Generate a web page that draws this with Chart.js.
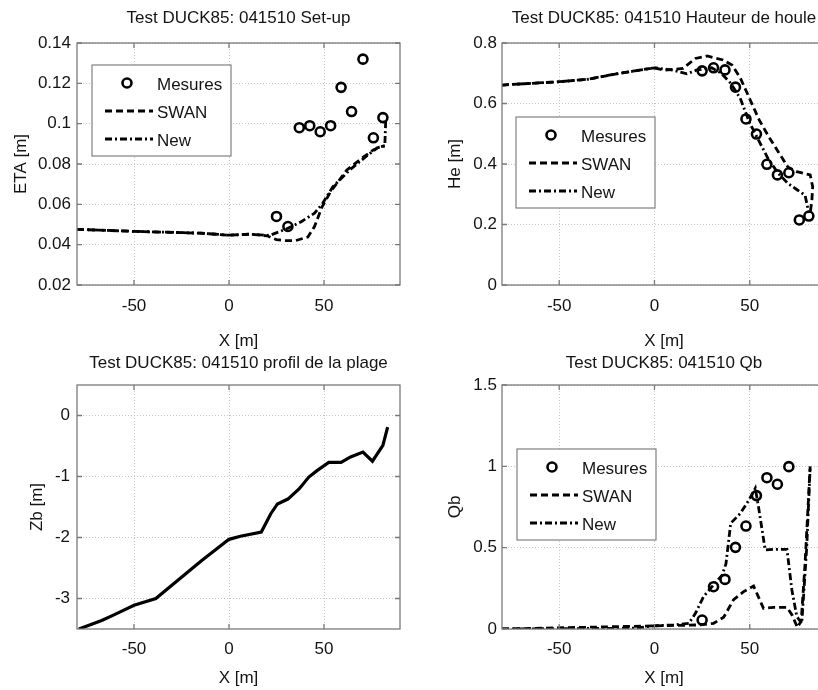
<!DOCTYPE html>
<html>
<head>
<meta charset="utf-8">
<script src="https://cdn.jsdelivr.net/npm/chart.js@4.4.1/dist/chart.umd.min.js"></script>
<style>
  html, body { margin: 0; padding: 0; background: #fff; }
  body { width: 818px; height: 690px; overflow: hidden; position: relative; }
  canvas { position: absolute; }
</style>
</head>
<body>
<canvas id="cEta" width="410" height="355" style="left:0;top:0"></canvas>
<canvas id="cHe" width="430" height="355" style="left:410px;top:0"></canvas>
<canvas id="cZb" width="410" height="350" style="left:0;top:340px"></canvas>
<canvas id="cQb" width="430" height="350" style="left:410px;top:340px"></canvas>
<script>
// ---- data ----
const xTicks = [-50, 0, 50];
const etaTicks = [0.02, 0.04, 0.06, 0.08, 0.1, 0.12, 0.14];
const heTicks = [0, 0.2, 0.4, 0.6, 0.8];
const zbTicks = [-3, -2, -1, 0];
const qbTicks = [0, 0.5, 1, 1.5];

// gauge positions (Mesures)
const xMes = [25, 31, 37, 42.5, 48, 53.5, 59, 64.5, 70.5, 76, 81];
const etaMes = [0.054, 0.049, 0.098, 0.099, 0.096, 0.099, 0.118, 0.106, 0.132, 0.093, 0.103];
const heMes = [0.708, 0.718, 0.711, 0.654, 0.549, 0.499, 0.399, 0.364, 0.371, 0.215, 0.228];
const qbMes = [0.055, 0.26, 0.305, 0.502, 0.633, 0.82, 0.93, 0.89, 0.998];

// set-up
const etaSwanX = [-80, -50, -15, 0, 11, 20, 25, 30, 35, 41.5, 45, 49, 53.5, 62, 71, 76, 80, 82];
const etaSwanY = [0.0476, 0.0466, 0.0457, 0.0447, 0.0452, 0.0444, 0.0425, 0.042, 0.042, 0.0438, 0.049, 0.0588, 0.0663, 0.077, 0.0836, 0.087, 0.0886, 0.089];
const etaNewX = [-80, -50, -15, 0, 11, 20, 22, 31, 38, 45, 49.3, 54.7, 63.5, 72, 78, 82, 82.5];
const etaNewY = [0.0476, 0.0466, 0.0457, 0.0447, 0.0452, 0.0446, 0.0448, 0.0481, 0.0514, 0.0556, 0.0605, 0.0688, 0.077, 0.0836, 0.088, 0.089, 0.102];

// hauteur de houle
const heSwanX = [-80, -50, -35, -20, 0, 5, 15, 21.5, 27.6, 36, 40.7, 45, 50, 55, 60, 65, 70, 74.7, 81.7, 83, 82.6, 81.7];
const heSwanY = [0.661, 0.672, 0.68, 0.698, 0.718, 0.71, 0.716, 0.749, 0.757, 0.744, 0.727, 0.685, 0.615, 0.545, 0.49, 0.44, 0.39, 0.375, 0.364, 0.325, 0.281, 0.237];
const heNewX = [-80, -50, -35, -20, 0, 10, 17, 22, 30, 35, 40, 45, 50, 55, 60, 65, 70, 75, 79, 81];
const heNewY = [0.661, 0.672, 0.68, 0.698, 0.718, 0.71, 0.698, 0.71, 0.718, 0.7, 0.667, 0.617, 0.535, 0.474, 0.413, 0.369, 0.336, 0.314, 0.297, 0.238];

// profil de la plage
const zbX = [-79, -67, -60, -50, -38.5, -25, -14.5, 0, 6, 17, 22, 25.5, 31, 37, 42, 46.5, 52.5, 59, 64, 70.5, 75.5, 81, 83.5];
const zbY = [-3.5, -3.36, -3.26, -3.11, -3.0, -2.65, -2.38, -2.03, -1.98, -1.91, -1.61, -1.45, -1.37, -1.2, -1.01, -0.9, -0.77, -0.77, -0.68, -0.6, -0.75, -0.49, -0.19];

// Qb
const qbSwanX = [-80, 24, 31, 36.3, 41.5, 46.8, 52, 57.2, 62.5, 69.5, 72, 75, 77, 79, 81.7];
const qbSwanY = [0, 0.025, 0.035, 0.072, 0.18, 0.23, 0.264, 0.127, 0.133, 0.133, 0.09, 0.01, 0.05, 0.4, 1.0];
const qbNewX = [-80, -10, 0, 10, 18, 21.5, 25.8, 30.2, 35.4, 37.5, 40, 45, 49.4, 52.9, 54.6, 58.1, 62.5, 69.5, 72.1, 74.7, 77.3, 79.9, 81.7];
const qbNewY = [0, 0.005, 0.02, 0.025, 0.035, 0.096, 0.2, 0.26, 0.33, 0.4, 0.65, 0.71, 0.79, 0.865, 0.75, 0.486, 0.49, 0.49, 0.24, 0.076, 0.035, 0.506, 1.0];

// ---- helpers ----
const FONT = "'Liberation Sans', Arial, Helvetica, sans-serif";
const TXT = '#141414';
Chart.defaults.font.family = FONT;
Chart.defaults.font.size = 17;
Chart.defaults.color = TXT;

function pts(xs, ys) {
    return ys.map((y, i) => ({ x: xs[i], y: y }));
}

function mesures(ys) {
    return {
        label: 'Mesures', data: pts(xMes, ys), showLine: false,
        pointStyle: 'circle', pointRadius: 4.5, pointBorderWidth: 2.6,
        pointBorderColor: '#000', pointBackgroundColor: 'rgba(0,0,0,0)'
    };
}

function curve(label, xs, ys, dash, width) {
    return {
        label: label, data: pts(xs, ys), borderColor: '#000',
        borderWidth: width || 2.8, borderDash: dash || [], pointRadius: 0,
        fill: false, tension: 0
    };
}

const SWAN_DASH = [7, 4];
const NEW_DASH = [7, 3, 2, 3];

// MATLAB style box + inward tick marks
const framePlugin = {
    id: 'frame',
    afterDatasetsDraw(chart) {
        const { ctx, chartArea: a, scales } = chart;
        ctx.save();
        ctx.strokeStyle = '#7a7a7a';
        ctx.lineWidth = 1.3;
        ctx.setLineDash([]);
        ctx.strokeRect(a.left, a.top, a.right - a.left, a.bottom - a.top);
        const tl = 5;
        ctx.beginPath();
        scales.x.ticks.forEach(t => {
            const px = scales.x.getPixelForValue(t.value);
            ctx.moveTo(px, a.bottom); ctx.lineTo(px, a.bottom - tl);
            ctx.moveTo(px, a.top); ctx.lineTo(px, a.top + tl);
        });
        scales.y.ticks.forEach(t => {
            const py = scales.y.getPixelForValue(t.value);
            ctx.moveTo(a.left, py); ctx.lineTo(a.left + tl, py);
            ctx.moveTo(a.right, py); ctx.lineTo(a.right - tl, py);
        });
        ctx.stroke();
        ctx.restore();
    }
};

// boxed legend inside the axes
const boxLegend = {
    id: 'boxLegend',
    afterDraw(chart, args, opts) {
        if (!opts || !opts.show) return;
        const { ctx, chartArea: a } = chart;
        const x0 = a.left + opts.dx, y0 = a.top + opts.dy;
        const w = 139, h = 91;
        ctx.save();
        ctx.fillStyle = '#fff';
        ctx.fillRect(x0, y0, w, h);
        ctx.strokeStyle = '#808080';
        ctx.lineWidth = 1.2;
        ctx.strokeRect(x0, y0, w, h);
        ctx.font = '17px ' + FONT;
        ctx.textBaseline = 'middle';
        ctx.fillStyle = TXT;
        chart.data.datasets.forEach((ds, i) => {
            const cy = y0 + 20 + i * 28;
            ctx.strokeStyle = '#000';
            if (ds.showLine === false) {
                ctx.setLineDash([]);
                ctx.lineWidth = 2.6;
                ctx.beginPath();
                ctx.arc(x0 + 35, cy - 2, 4.5, 0, Math.PI * 2);
                ctx.stroke();
            } else {
                ctx.setLineDash(ds.borderDash || []);
                ctx.lineWidth = 2.8;
                ctx.beginPath();
                ctx.moveTo(x0 + 13, cy - 2);
                ctx.lineTo(x0 + 61, cy - 2);
                ctx.stroke();
            }
            ctx.fillText(ds.label, x0 + 65, cy);
        });
        ctx.restore();
    }
};

function xAxis(tickPad, axisHeight, titlePad) {
    return {
        type: 'linear', min: -80, max: 90,
        afterBuildTicks: s => { s.ticks = xTicks.map(v => ({ value: v })); },
        afterFit: s => { s.height = axisHeight; },
        grid: { color: '#c4c4c4', lineWidth: 1, drawTicks: false },
        border: { display: false, dash: [1, 2] },
        ticks: { padding: tickPad, color: TXT, callback: v => String(v) },
        title: { display: true, text: 'X [m]', color: TXT, padding: { top: 0, bottom: titlePad } }
    };
}

function yAxis(min, max, ticks, label, axisWidth, tickPad, titlePad) {
    return {
        type: 'linear', min: min, max: max,
        afterBuildTicks: s => { s.ticks = ticks.map(v => ({ value: v })); },
        afterFit: s => { s.width = axisWidth; },
        grid: { color: '#c4c4c4', lineWidth: 1, drawTicks: false },
        border: { display: false, dash: [1, 2] },
        ticks: { padding: tickPad, color: TXT, callback: v => String(v) },
        title: { display: true, text: label, color: TXT, padding: { top: titlePad, bottom: 0 } }
    };
}

function makeChart(id, cfg) {
    return new Chart(document.getElementById(id), {
        type: 'line',
        data: { datasets: cfg.datasets },
        options: {
            responsive: false,
            animation: false,
            layout: { padding: { left: 0, top: 0, right: cfg.padRight, bottom: 0 } },
            plugins: {
                legend: { display: false },
                tooltip: { enabled: false },
                title: {
                    display: true, text: cfg.title, fullSize: false, color: TXT,
                    font: { size: 17, weight: 'normal' },
                    padding: cfg.titlePad
                },
                boxLegend: cfg.legend || { show: false }
            },
            scales: { x: cfg.x, y: cfg.y }
        },
        plugins: [framePlugin, boxLegend]
    });
}

// ---- the four panels ----
makeChart('cEta', {
    title: 'Test DUCK85: 041510 Set-up',
    titlePad: { top: 8.3, bottom: 14.3 },
    padRight: 10,
    datasets: [
        mesures(etaMes),
        curve('SWAN', etaSwanX, etaSwanY, SWAN_DASH),
        curve('New', etaNewX, etaNewY, NEW_DASH)
    ],
    legend: { show: true, dx: 15, dy: 22 },
    x: xAxis(11, 70, 3),
    y: yAxis(0.02, 0.14, etaTicks, 'ETA [m]', 77, 6, 10.8)
});

makeChart('cHe', {
    title: 'Test DUCK85: 041510 Hauteur de houle',
    titlePad: { top: 8.3, bottom: 14.3 },
    padRight: 14,
    datasets: [
        mesures(heMes),
        curve('SWAN', heSwanX, heSwanY, SWAN_DASH),
        curve('New', heNewX, heNewY, NEW_DASH)
    ],
    legend: { show: true, dx: 14, dy: 74 },
    x: xAxis(11, 70, 3),
    y: yAxis(0, 0.8, heTicks, 'He [m]', 92, 5, 34.8)
});

makeChart('cZb', {
    title: 'Test DUCK85: 041510 profil de la plage',
    titlePad: { top: 12.8, bottom: 11.8 },
    padRight: 10,
    datasets: [
        curve('Zb', zbX, zbY, [], 3.2)
    ],
    x: xAxis(10, 61, 1.8),
    y: yAxis(-3.5, 0.5, zbTicks, 'Zb [m]', 77, 7, 27)
});

makeChart('cQb', {
    title: 'Test DUCK85: 041510 Qb',
    titlePad: { top: 12.8, bottom: 11.8 },
    padRight: 14,
    datasets: [
        mesures(qbMes),
        curve('SWAN', qbSwanX, qbSwanY, SWAN_DASH),
        curve('New', qbNewX, qbNewY, NEW_DASH)
    ],
    legend: { show: true, dx: 15, dy: 64 },
    x: xAxis(10, 61, 1.8),
    y: yAxis(0, 1.5, qbTicks, 'Qb', 92, 5, 34.8)
});
</script>
</body>
</html>
